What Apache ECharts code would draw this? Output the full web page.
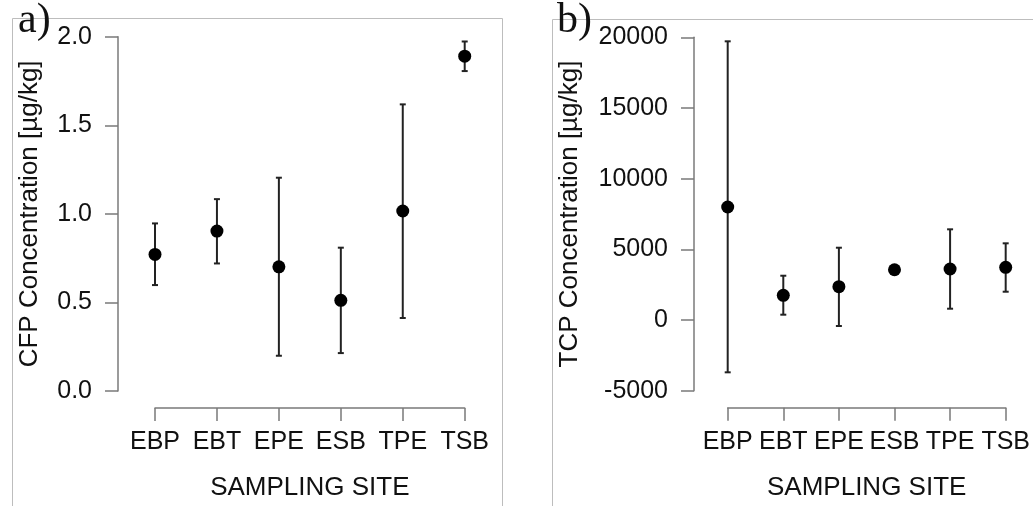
<!DOCTYPE html>
<html>
<head>
<meta charset="utf-8">
<script src="https://cdn.jsdelivr.net/npm/echarts@6/dist/echarts.min.js"></script>
<style>
html,body{margin:0;padding:0;background:#fff;}
#chart{width:1033px;height:506px;}
</style>
</head>
<body>
<div id="chart"></div>
<script>
var sites = ['EBP', 'EBT', 'EPE', 'ESB', 'TPE', 'TSB'];
// Panel a: CFP concentration [µg/kg]
var cfpMean = [0.771, 0.903, 0.701, 0.512, 1.016, 1.890];
var cfpLow  = [0.598, 0.720, 0.199, 0.214, 0.412, 1.806];
var cfpHigh = [0.946, 1.083, 1.204, 0.809, 1.618, 1.973];
// Panel b: TCP concentration [µg/kg]
var tcpMean = [7994, 1747, 2356, 3558, 3608, 3728];
var tcpLow  = [-3700, 377, -424, 3558, 800, 2002];
var tcpHigh = [19716, 3134, 5115, 3558, 6416, 5426];

var chart = echarts.init(document.getElementById('chart'), null, {renderer: 'canvas'});

var axisGray = '#7a7a7a';
var textColor = '#111';
var fontFam = "'Liberation Sans', Arial, sans-serif";
var fs = 25;
var fsTitle = 26;

function errData(lo, hi) {
  return lo.map(function (v, i) { return [i, v, hi[i]]; });
}
function errRender(params, api) {
  var x = api.value(0);
  var p1 = api.coord([x, api.value(1)]);
  var p2 = api.coord([x, api.value(2)]);
  var cap = 3;
  var st = {stroke: '#222', lineWidth: 2};
  return {
    type: 'group',
    children: [
      {type: 'line', shape: {x1: p1[0], y1: p1[1], x2: p2[0], y2: p2[1]}, style: st},
      {type: 'line', shape: {x1: p1[0] - cap, y1: p1[1], x2: p1[0] + cap, y2: p1[1]}, style: st},
      {type: 'line', shape: {x1: p2[0] - cap, y1: p2[1], x2: p2[0] + cap, y2: p2[1]}, style: st}
    ]
  };
}

function xAxisCfg(gridIndex) {
  return {
    gridIndex: gridIndex,
    type: 'category',
    data: sites,
    boundaryGap: false,
    offset: 17,
    name: 'SAMPLING SITE',
    nameLocation: 'middle',
    nameGap: 67,
    nameTextStyle: {fontSize: fsTitle, color: textColor, fontFamily: fontFam},
    axisLine: {show: true, onZero: false, lineStyle: {color: axisGray, width: 1.5}},
    axisTick: {show: true, length: 13, inside: false, lineStyle: {color: axisGray, width: 1.5}},
    axisLabel: {fontSize: fs, color: textColor, fontFamily: fontFam, margin: 22, interval: 0},
    splitLine: {show: false}
  };
}
function yAxisCfg(gridIndex, min, max, interval, name, offset, nameGap, fmt) {
  return {
    gridIndex: gridIndex,
    type: 'value',
    min: min, max: max, interval: interval,
    offset: offset,
    name: name,
    nameLocation: 'middle',
    nameGap: nameGap,
    nameTextStyle: {fontSize: fsTitle, color: textColor, fontFamily: fontFam},
    axisLine: {show: true, onZero: false, lineStyle: {color: axisGray, width: 1.5}},
    axisTick: {show: true, length: 13, inside: false, lineStyle: {color: axisGray, width: 1.5}},
    axisLabel: {fontSize: fs, color: textColor, fontFamily: fontFam, margin: 26, formatter: fmt},
    splitLine: {show: false}
  };
}

var option = {
  backgroundColor: '#fff',
  animation: false,
  grid: [
    {left: 155, width: 309.7, top: 36.7, height: 354.3, containLabel: false},
    {left: 727.7, width: 280.6, top: 37.3, height: 353.4, containLabel: false}
  ],
  xAxis: [xAxisCfg(0), xAxisCfg(1)],
  yAxis: [
    yAxisCfg(0, 0, 2, 0.5, 'CFP Concentration [µg/kg]', 37, 75, function (v) { return v.toFixed(1); }),
    yAxisCfg(1, -5000, 20000, 5000, 'TCP Concentration [µg/kg]', 33.7, 111, function (v) { return String(v); })
  ],
  graphic: [
    {type: 'rect', shape: {x: 12.5, y: 18.5, width: 490, height: 520}, style: {fill: 'none', stroke: '#bdbdbd', lineWidth: 1}, z: -1},
    {type: 'rect', shape: {x: 552.5, y: 19.5, width: 520, height: 520}, style: {fill: 'none', stroke: '#bdbdbd', lineWidth: 1}, z: -1},
    {type: 'text', left: 18, top: 0, style: {text: 'a)', font: "42px 'Liberation Serif', 'Times New Roman', serif", fill: '#111'}, z: 10},
    {type: 'text', left: 557, top: 0, style: {text: 'b)', font: "42px 'Liberation Serif', 'Times New Roman', serif", fill: '#111'}, z: 10}
  ],
  series: [
    {type: 'custom', xAxisIndex: 0, yAxisIndex: 0, renderItem: errRender, data: errData(cfpLow, cfpHigh), z: 2},
    {type: 'scatter', xAxisIndex: 0, yAxisIndex: 0, data: cfpMean, symbol: 'circle', symbolSize: 13, itemStyle: {color: '#000', opacity: 1}, z: 3},
    {type: 'custom', xAxisIndex: 1, yAxisIndex: 1, renderItem: errRender, data: errData(tcpLow, tcpHigh), z: 2},
    {type: 'scatter', xAxisIndex: 1, yAxisIndex: 1, data: tcpMean, symbol: 'circle', symbolSize: 13, itemStyle: {color: '#000', opacity: 1}, z: 3}
  ]
};
chart.setOption(option);
</script>
</body>
</html>
